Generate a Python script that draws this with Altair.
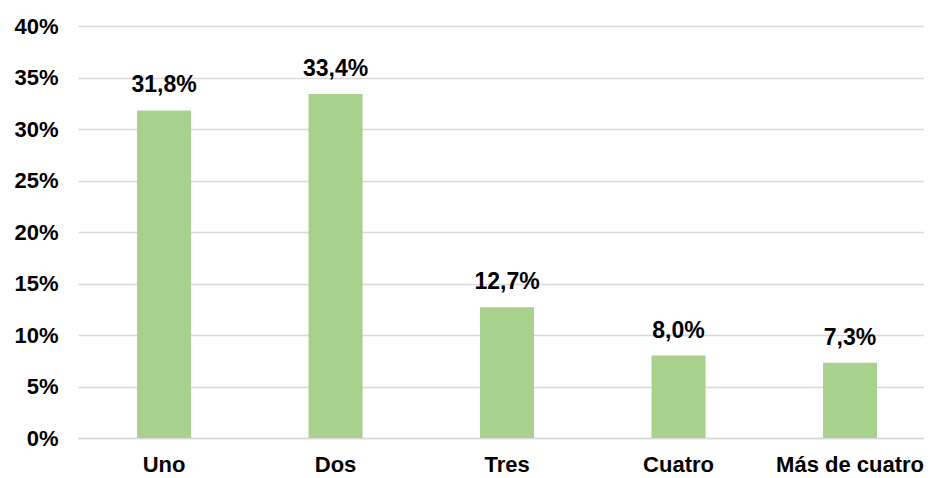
import altair as alt
import pandas as pd

categories = ["Uno", "Dos", "Tres", "Cuatro", "Más de cuatro"]
values = [31.8, 33.4, 12.7, 8.0, 7.3]
labels = ["31,8%", "33,4%", "12,7%", "8,0%", "7,3%"]

df = pd.DataFrame({"cat": categories, "val": values, "lab": labels})

FONT = "Liberation Sans"

x = alt.X("cat:N", sort=categories, title=None,
          scale=alt.Scale(paddingInner=0.685, paddingOuter=0.309, align=0.557),
          axis=alt.Axis(labelAngle=0, labelFont=FONT, labelFontSize=22,
                        labelFontWeight="bold", labelColor="#000000",
                        labelPadding=16, ticks=False, domain=True,
                        domainColor="#d9d9d9", domainWidth=1.5, grid=False))
y = alt.Y("val:Q", title=None,
          scale=alt.Scale(domain=[0, 40], nice=False),
          axis=alt.Axis(values=[0, 5, 10, 15, 20, 25, 30, 35, 40],
                        labelExpr="datum.value + '%'",
                        labelFont=FONT, labelFontSize=22, labelFontWeight="bold",
                        labelColor="#000000", labelPadding=20, ticks=False,
                        domain=False, grid=True, gridColor="#d9d9d9",
                        gridWidth=1.5))

bars = alt.Chart(df).mark_bar(color="#A9D18E").encode(x=x, y=y)
text = alt.Chart(df).mark_text(font=FONT, fontSize=23, fontWeight="bold",
                               color="#000000", baseline="alphabetic",
                               dy=-18).encode(x=x, y=y, text="lab:N")

chart = (bars + text).properties(
    width=846, height=412,
    padding={"left": 70, "top": 18, "right": 0, "bottom": 40},
    autosize=alt.AutoSizeParams(type="none"),
).configure_view(stroke=None)

chart.save("out.html", embed_options={"renderer": "svg", "actions": False})
